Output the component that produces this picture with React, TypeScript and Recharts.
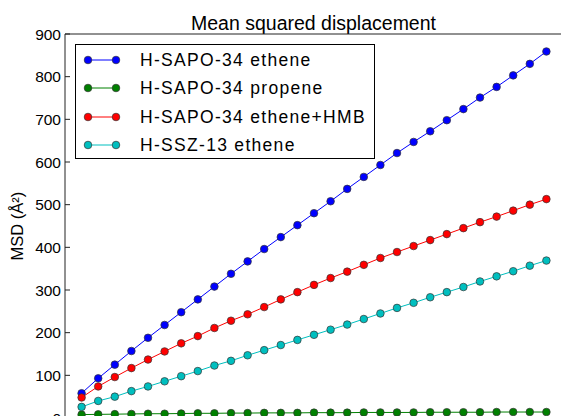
import React from 'react';
import { LineChart, Line, XAxis, YAxis, Legend, Label } from 'recharts';

const timeSteps = [1, 2, 3, 4, 5, 6, 7, 8, 9, 10, 11, 12, 13, 14, 15, 16, 17, 18, 19, 20, 21, 22, 23, 24, 25, 26, 27, 28, 29];
const sapoEthene = [58, 93, 125, 157, 188, 218, 248, 278, 308, 338, 367, 396, 424, 452, 480, 508, 537, 565, 593, 621, 647, 672, 698, 724, 751, 776, 803, 830, 859];
const sapoPropene = [8, 8.5, 9, 9.5, 10, 10, 10.5, 11, 11, 11.5, 11.5, 12, 12, 12, 12.5, 12.5, 12.5, 13, 13, 13, 13, 13.5, 13.5, 13.5, 13.5, 14, 14, 14, 14];
const sapoEtheneHmb = [48, 74, 96, 117, 137, 156, 175, 192, 211, 228, 243, 260, 278, 295, 312, 328, 343, 359, 375, 389, 403, 417, 431, 445, 459, 472, 486, 500, 513];
const sszEthene = [26, 40, 50, 63, 74, 86, 98, 110, 123, 134, 147, 159, 171, 183, 195, 207, 219, 232, 245, 258, 270, 283, 295, 307, 320, 332, 344, 357, 369];

const seriesNames = ['H-SAPO-34 ethene', 'H-SAPO-34 propene', 'H-SAPO-34 ethene+HMB', 'H-SSZ-13 ethene'];
const seriesKeys = ['sapoEthene', 'sapoPropene', 'sapoEtheneHmb', 'sszEthene'];
const seriesColors = ['#0000ff', '#008000', '#ff0000', '#00bfbf'];
const xTicks = [0, 5, 10, 15, 20, 25, 30];
const yTicks = [0, 100, 200, 300, 400, 500, 600, 700, 800, 900];
const chartTitle = 'Mean squared displacement';
const yAxisTitle = 'MSD (Å²)';

const data = timeSteps.map((t, i) => ({
  t,
  sapoEthene: sapoEthene[i],
  sapoPropene: sapoPropene[i],
  sapoEtheneHmb: sapoEtheneHmb[i],
  sszEthene: sszEthene[i],
}));

const FONT = '"Liberation Sans", Arial, Helvetica, sans-serif';

const renderLegend = () => {
  return (
    <div
      style={{
        position: 'relative',
        width: 300,
        height: 115,
        boxSizing: 'border-box',
        border: '1px solid #000',
        background: '#fff',
        fontFamily: FONT,
      }}
    >
      {seriesNames.map((name: string, i: number) => {
        const cy = 15 + 28.3 * i;
        const color = seriesColors[i];
        return (
          <div key={name} style={{ position: 'absolute', left: 0, top: cy - 10, height: 20, width: 298 }}>
            <svg width={60} height={20} style={{ position: 'absolute', left: 0, top: 0 }}>
              <line x1={12} y1={10} x2={40} y2={10} stroke={color} strokeWidth={1} />
              <circle cx={12} cy={10} r={3.8} fill={color} stroke="#333" strokeWidth={0.7} />
              <circle cx={40} cy={10} r={3.8} fill={color} stroke="#333" strokeWidth={0.7} />
            </svg>
            <span
              style={{
                position: 'absolute',
                left: 64,
                top: 0,
                lineHeight: '20px',
                fontSize: 17.5,
                letterSpacing: 1.3,
                color: '#000',
                whiteSpace: 'nowrap',
              }}
            >
              {name}
            </span>
          </div>
        );
      })}
    </div>
  );
};

export default function App() {
  return (
    <div style={{ position: 'absolute', left: 0, top: 0, width: 561, height: 416, overflow: 'hidden', background: '#fff' }}>
      <div
        style={{
          position: 'absolute',
          left: 0,
          top: 12,
          width: 627,
          textAlign: 'center',
          fontFamily: FONT,
          fontSize: 19.5,
          lineHeight: '22px',
          color: '#000',
          whiteSpace: 'nowrap',
        }}
      >
        {chartTitle}
      </div>
      <div style={{ position: 'absolute', left: 0, top: 0 }}>
        <LineChart
          width={600}
          height={480}
          data={data}
          margin={{ top: 33, right: 36, left: 0, bottom: 32 }}
        >
          <XAxis
            dataKey="t"
            type="number"
            domain={[0, 30]}
            ticks={xTicks}
            height={30}
            tickSize={-5}
            tick={false}
            stroke="#222"
          />
          <XAxis
            xAxisId="top"
            dataKey="t"
            type="number"
            orientation="top"
            domain={[0, 30]}
            ticks={xTicks}
            height={1}
            tickSize={-5}
            tick={false}
            stroke="#222"
          />
          <YAxis
            type="number"
            domain={[0, 900]}
            ticks={yTicks}
            width={65}
            tickSize={-5}
            tickMargin={9}
            stroke="#222"
            tick={{ fill: '#000', fontSize: 15.5, fontFamily: FONT }}
          >
            <Label
              value={yAxisTitle}
              angle={-90}
              position="insideLeft"
              offset={17}
              style={{ fill: '#000', fontSize: 16.5, fontFamily: FONT, textAnchor: 'middle' }}
            />
          </YAxis>
          <YAxis
            yAxisId="right"
            orientation="right"
            type="number"
            domain={[0, 900]}
            ticks={yTicks}
            width={1}
            tickSize={-5}
            tick={false}
            stroke="#222"
          />
          <Legend
            layout="vertical"
            align="center"
            verticalAlign="middle"
            content={renderLegend}
            wrapperStyle={{ position: 'absolute', left: 75, top: 44, width: 300, height: 115, bottom: 'auto', right: 'auto' }}
          />
          {seriesKeys.map((k, i) => (
            <Line
              key={k}
              type="linear"
              dataKey={k}
              name={seriesNames[i]}
              stroke={seriesColors[i]}
              strokeWidth={1}
              dot={{ r: 3.8, fill: seriesColors[i], stroke: '#333', strokeWidth: 0.7 }}
              isAnimationActive={false}
            />
          ))}
        </LineChart>
      </div>
    </div>
  );
}
